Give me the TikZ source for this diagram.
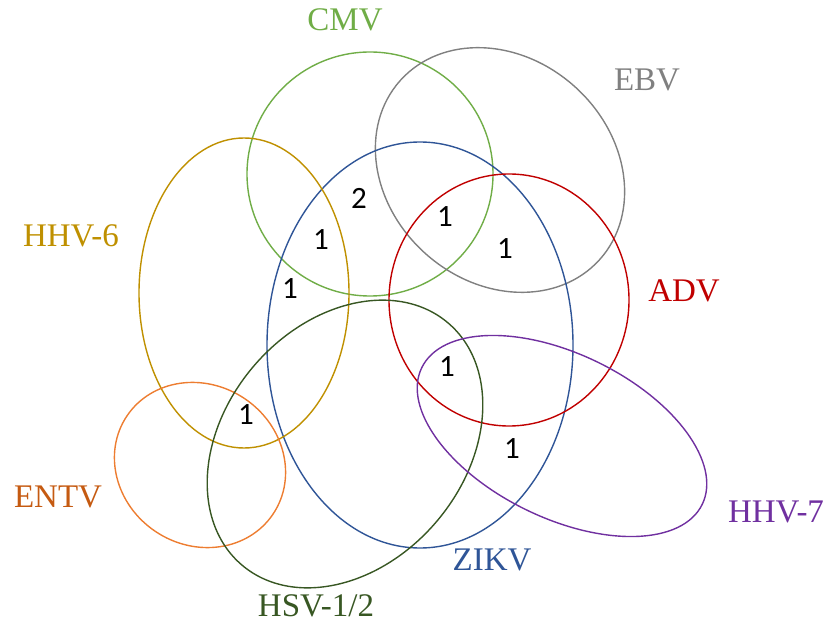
\documentclass[tikz,border=0pt]{standalone}
\usepackage{fontspec}
\setmainfont{Liberation Serif}
\newfontfamily\numfont{Carlito}
\definecolor{cmvc}{HTML}{70AD47}
\definecolor{ebvc}{HTML}{808080}
\definecolor{hhvsix}{HTML}{BF9000}
\definecolor{hhvsixl}{HTML}{BF9000}
\definecolor{advc}{HTML}{C00000}
\definecolor{entvc}{HTML}{ED7D31}
\definecolor{entvl}{HTML}{C55A11}
\definecolor{hhvseven}{HTML}{7030A0}
\definecolor{zikvc}{HTML}{2F5597}
\definecolor{hsvc}{HTML}{385723}
\tikzset{
  setline/.style={line width=1.4pt},
  setlabel/.style={inner sep=0pt, text height=0.662em, text depth=0pt, font=\fontsize{33}{33}\selectfont},
  countlabel/.style={inner sep=0pt, text height=0.63em, text depth=0pt, font=\numfont\fontsize{31}{31}\selectfont, text=black}
}
\begin{document}
\begin{tikzpicture}[x=1pt,y=1pt]
\useasboundingbox (0,0) rectangle (827,627);
% sets
\draw[setline, cmvc] (370,453) ellipse [x radius=123, y radius=122];
\draw[setline, ebvc, rotate around={-42:(500,457)}] (500,457) ellipse [x radius=134, y radius=112];
\draw[setline, zikvc] (420,282) ellipse [x radius=153, y radius=203];
\draw[setline, advc] (509,327) ellipse [x radius=120, y radius=126];
\draw[setline, hhvsix] (244,334) ellipse [x radius=105, y radius=155];
\draw[setline, entvc, rotate around={-34:(200,162)}] (200,162) ellipse [x radius=88, y radius=80];
\draw[setline, hsvc, rotate around={49.5:(345,183)}] (345,183) ellipse [x radius=159, y radius=120];
\draw[setline, hhvseven, rotate around={-26:(562,191)}] (562,191) ellipse [x radius=156, y radius=82];
% set labels
\node[setlabel, text=cmvc] (lcmv) at (345,600) {CMV};
\node[setlabel, text=ebvc] (lebv) at (647,540) {EBV};
\node[setlabel, text=hhvsixl] (lhhv6) at (71,384) {HHV-6};
\node[setlabel, text=advc] (ladv) at (684,329) {ADV};
\node[setlabel, text=entvl] (lentv) at (58,123) {ENTV};
\node[setlabel, text=hhvseven] (lhhv7) at (776,108) {HHV-7};
\node[setlabel, text=zikvc] (lzikv) at (492,60) {ZIKV};
\node[setlabel, text=hsvc] (lhsv) at (316,14) {HSV-1/2};
% counts
\node[countlabel] (n1) at (359,422) {2};
\node[countlabel] (n2) at (321,381) {1};
\node[countlabel] (n3) at (290,332) {1};
\node[countlabel] (n4) at (445,404) {1};
\node[countlabel] (n5) at (505,372) {1};
\node[countlabel] (n6) at (447,254) {1};
\node[countlabel] (n7) at (512,172) {1};
\node[countlabel] (n8) at (246,206) {1};
\end{tikzpicture}
\end{document}
